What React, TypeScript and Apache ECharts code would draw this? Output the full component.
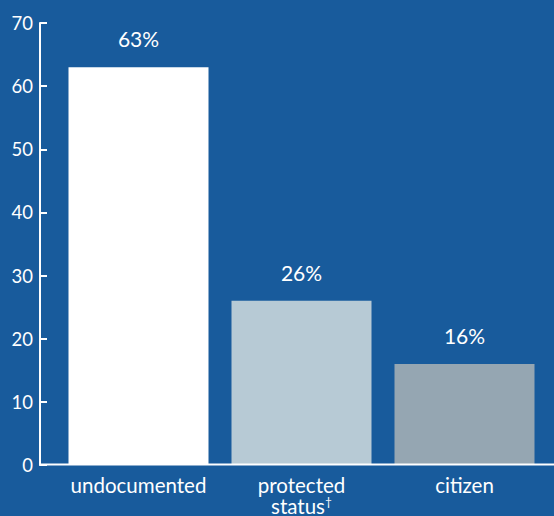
import React, { useEffect, useRef } from "react";
import * as echarts from "echarts";

const categories = ["undocumented", "protected status", "citizen"];
const values = [63, 26, 16];
const valueLabels = ["63%", "26%", "16%"];
const barColors = ["#ffffff", "#b7cad5", "#95a6b2"];
const yTicks = { min: 0, max: 70, interval: 10 };

const BG = "#185b9c";
const FONT = "Lato, 'Open Sans', sans-serif";

export default function App() {
  const ref = useRef<HTMLDivElement>(null);
  useEffect(() => {
    const chart = echarts.init(ref.current!, null, { renderer: "svg" });
    chart.setOption({
      animation: false,
      backgroundColor: BG,
      grid: { left: 57, right: 8, top: 23, bottom: 51, containLabel: false },
      xAxis: {
        type: "category",
        data: categories,
        axisLine: { show: false },
        axisTick: { show: false },
        axisLabel: {
          color: "#ffffff",
          fontFamily: FONT,
          fontSize: 20.5,
          margin: 9,
          interval: 0,
          formatter: (v: string) =>
            v === "protected status" ? "{t|protected}\n{t|status}{s|†}" : "{t|" + v + "}",
          rich: {
            t: { color: "#ffffff", fontFamily: FONT, fontSize: 20.5, lineHeight: 21 },
            s: { color: "#ffffff", fontFamily: FONT, fontSize: 12, lineHeight: 21, verticalAlign: "top" },
          },
        },
      },
      yAxis: {
        type: "value",
        min: yTicks.min,
        max: yTicks.max,
        interval: yTicks.interval,
        offset: 17,
        splitLine: { show: false },
        axisLine: { show: true, lineStyle: { color: "#ffffff", width: 2 } },
        axisTick: { show: true, inside: true, length: 7, lineStyle: { color: "#ffffff", width: 2 } },
        axisLabel: { color: "#ffffff", fontFamily: FONT, fontSize: 18.5, margin: 7 },
      },
      graphic: [
        {
          type: "line",
          shape: { x1: 39, y1: 464.5, x2: 554, y2: 464.5 },
          style: { stroke: "#ffffff", lineWidth: 2 },
          z: 10,
        },
      ],
      series: [
        {
          type: "bar",
          barWidth: 140,
          data: values.map((v, i) => ({ value: v, itemStyle: { color: barColors[i] } })),
          label: {
            show: true,
            position: "top",
            distance: 18,
            color: "#ffffff",
            fontFamily: FONT,
            fontSize: 21,
            formatter: (p: any) => valueLabels[p.dataIndex],
          },
        },
      ],
    });
    return () => chart.dispose();
  }, []);
  return (
    <div
      ref={ref}
      style={{ position: "fixed", left: 0, top: 0, width: 554, height: 516, background: BG }}
    />
  );
}
